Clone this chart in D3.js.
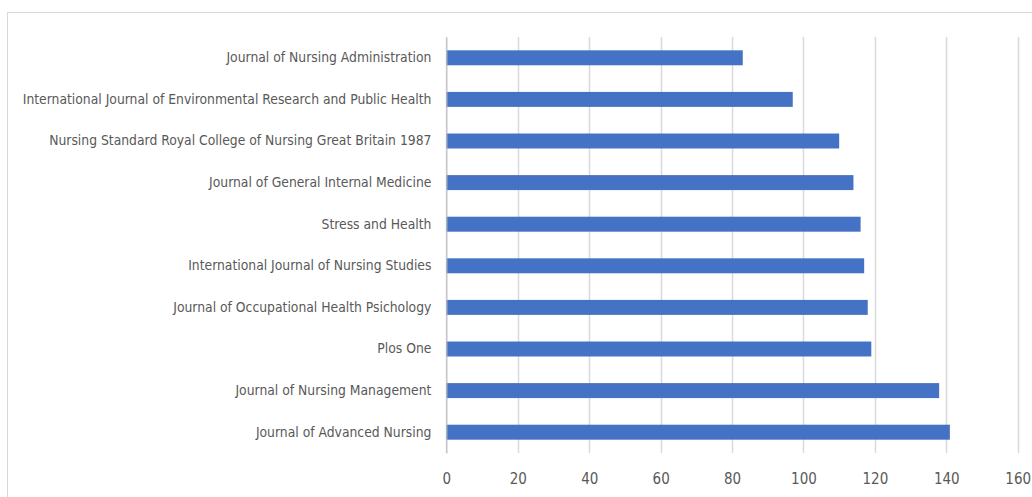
<!DOCTYPE html>
<html lang="en">
    <head>
        <meta charset="utf-8">
        <title>D3</title>
        <script type="text/javascript" src="https://cdnjs.cloudflare.com/ajax/libs/d3/7.8.5/d3.min.js"></script>
        <style type="text/css">
            body { margin: 0; background: #fff; }
        </style>
    </head>
    <body>
        <script type="text/javascript">
            var w = 1032;
            var h = 497;

            // journals, top to bottom
            var journals = [
                "Journal of Nursing Administration",
                "International Journal of Environmental Research and Public Health",
                "Nursing Standard Royal College of Nursing Great Britain 1987",
                "Journal of General Internal Medicine",
                "Stress and Health",
                "International Journal of Nursing Studies",
                "Journal of Occupational Health Psichology",
                "Plos One",
                "Journal of Nursing Management",
                "Journal of Advanced Nursing"
            ];
            var counts = [83, 97, 110, 114, 116, 117, 118, 119, 138, 141];
            var xTicks = [0, 20, 40, 60, 80, 100, 120, 140, 160];

            var font = "'Liberation Sans Narrow', 'DejaVu Sans Condensed', sans-serif";

            var svg = d3.select("body")
                        .append("svg")
                        .attr("width", w)
                        .attr("height", h);

            // chart frame
            svg.append("rect")
               .attr("x", 7.5)
               .attr("y", 12.5)
               .attr("width", 1040)
               .attr("height", 500)
               .attr("fill", "none")
               .attr("stroke", "#d9d9d9");

            var x = d3.scaleLinear()
                      .domain([0, 160])
                      .range([446.4, 1017.7]);

            var y = d3.scaleBand()
                      .domain(journals)
                      .range([37, 453])
                      .paddingInner(0.64)
                      .paddingOuter(0.32);

            // gridlines
            svg.selectAll("line.grid")
               .data(xTicks)
               .enter()
               .append("line")
               .attr("class", "grid")
               .attr("x1", function (d) { return Math.round(x(d)) + 0.5; })
               .attr("x2", function (d) { return Math.round(x(d)) + 0.5; })
               .attr("y1", 37)
               .attr("y2", 453)
               .attr("stroke", "#d9d9d9")
               .attr("stroke-width", 1.5);

            // bars
            svg.selectAll("rect.bar")
               .data(counts)
               .enter()
               .append("rect")
               .attr("class", "bar")
               .attr("x", x(0))
               .attr("y", function (d, i) { return y(journals[i]); })
               .attr("width", function (d) { return x(d) - x(0); })
               .attr("height", y.bandwidth())
               .attr("fill", "#4472c4");

            // category axis
            var yAxis = d3.axisLeft(y).tickSize(0).tickPadding(15);
            var gy = svg.append("g")
                        .attr("transform", "translate(" + x(0) + ",0)")
                        .call(yAxis);
            gy.select(".domain").attr("stroke", "#bfbfbf");
            var labels = gy.selectAll("text")
              .attr("font-family", font)
              .attr("font-size", "15px")
              .attr("fill", "#595959");

            // shrink so the longest label spans about the same width as the reference
            var longest = d3.max(labels.nodes(), function (n) { return n.getComputedTextLength(); });
            var fs = Math.min(15, 15 * 409 / longest);
            labels.attr("font-size", fs + "px");

            // value axis
            var xAxis = d3.axisBottom(x).tickValues(xTicks).tickSize(0).tickPadding(20);
            var gx = svg.append("g")
                        .attr("transform", "translate(0,453)")
                        .call(xAxis);
            gx.select(".domain").remove();
            gx.selectAll("text")
              .attr("font-family", font)
              .attr("font-size", "15px")
              .attr("fill", "#595959");
        </script>
    </body>
</html>
